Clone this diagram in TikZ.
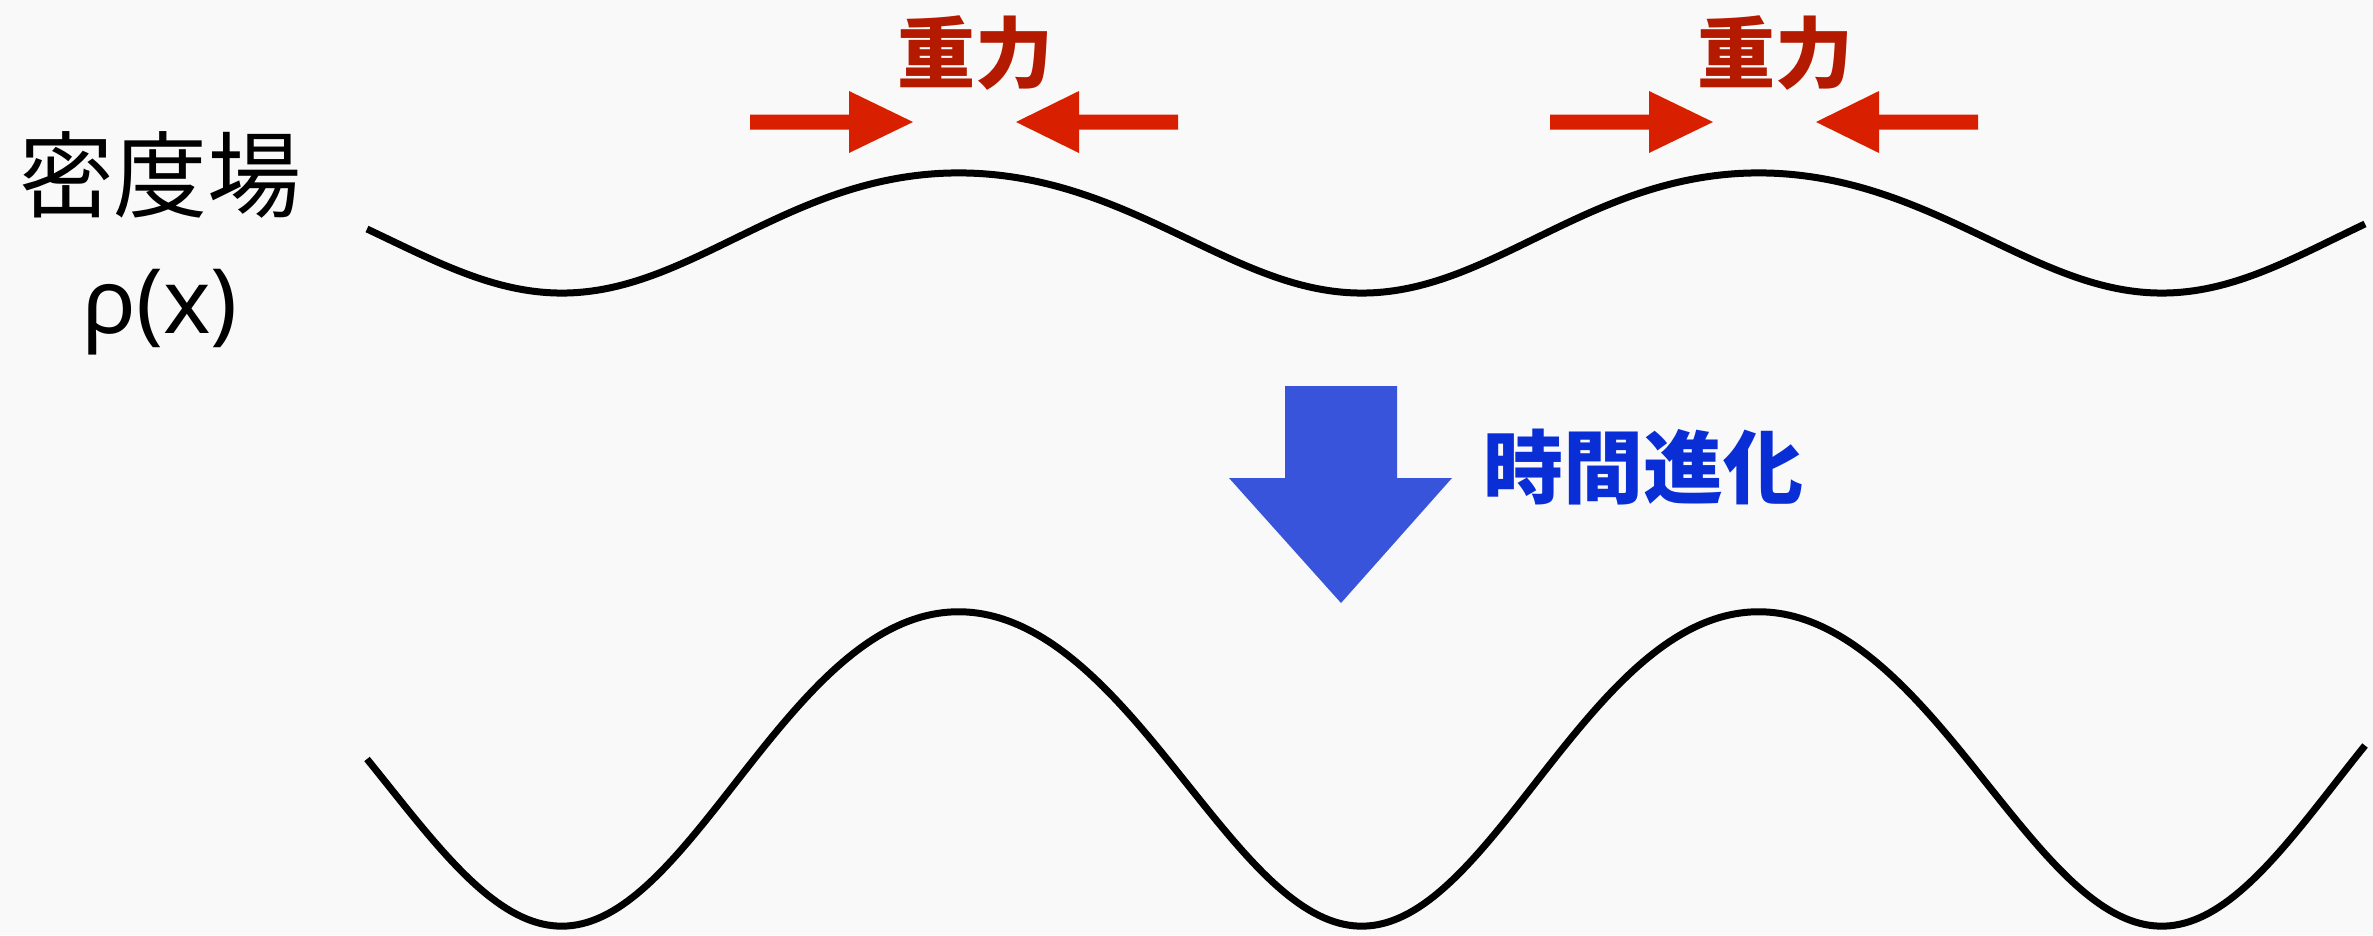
\documentclass[tikz,border=0pt]{standalone}
\usepackage{fontspec}
\newfontfamily\jpfont{Noto Sans CJK JP}
\newfontfamily\grfont{Noto Sans}
\definecolor{bgcol}{HTML}{F9F9F9}
\definecolor{gravred}{HTML}{D82000}
\definecolor{gravtext}{HTML}{B31A00}
\definecolor{timeblue}{HTML}{3754DB}
\definecolor{timetext}{HTML}{0A2ED6}
\begin{document}
\begin{tikzpicture}[x=1pt,y=-1pt,
  wave/.style={line width=7pt, black, line join=round},
  redarrow/.style={fill=gravred, draw=none},
  bluearrow/.style={fill=timeblue, draw=none},
  lbl/.style={inner sep=0pt, anchor=base},
  gravlbl/.style={lbl, text=gravtext, font=\jpfont\bfseries\fontsize{78}{78}\selectfont},
  timelbl/.style={lbl, text=timetext, font=\jpfont\bfseries\fontsize{80}{80}\selectfont}]

\fill[bgcol] (0,0) rectangle (2373,935);
\useasboundingbox (0,0) rectangle (2373,935);

% left labels
\node[lbl, font=\jpfont\fontsize{94}{94}\selectfont] (density) at (160,210) {密度場};
\node[lbl, font=\grfont\fontsize{90}{90}\selectfont] (rho) at (160,333) {ρ(x)};

% gravity labels
\node[gravlbl] (grav1) at (975,82) {重力};
\node[gravlbl] (grav2) at (1775,82) {重力};

% red arrows, pair 1
\fill[redarrow] (750,114.5) -- (849,114.5) -- (849,91) -- (913,122) -- (849,153) -- (849,129.5) -- (750,129.5) -- cycle;
\fill[redarrow] (1178,114.5) -- (1079,114.5) -- (1079,91) -- (1016,122) -- (1079,153) -- (1079,129.5) -- (1178,129.5) -- cycle;
% red arrows, pair 2
\fill[redarrow] (1550,114.5) -- (1649,114.5) -- (1649,91) -- (1713,122) -- (1649,153) -- (1649,129.5) -- (1550,129.5) -- cycle;
\fill[redarrow] (1978,114.5) -- (1879,114.5) -- (1879,91) -- (1816,122) -- (1879,153) -- (1879,129.5) -- (1978,129.5) -- cycle;

% top wave (initial density field)
\draw[wave] plot[domain=367:2365, samples=400, variable=\x]
  (\x, {233 + 60*sin(0.45*(\x-367)) + 3*cos(0.45*(\x-367)) - 7*cos(0.45*(\x-367))^2});

% time evolution arrow
\fill[bluearrow] (1285,386) -- (1397,386) -- (1397,478) -- (1452,478) -- (1341,603) -- (1229,478) -- (1285,478) -- cycle;
\node[timelbl, anchor=base west] (time) at (1483,497) {時間進化};

% bottom wave (evolved density field)
\draw[wave] plot[domain=367:2365, samples=400, variable=\x]
  (\x, {769 + 157*sin(0.45*(\x-367)) + 8*cos(0.45*(\x-367)) - 18*cos(0.45*(\x-367))^2});

\end{tikzpicture}
\end{document}
